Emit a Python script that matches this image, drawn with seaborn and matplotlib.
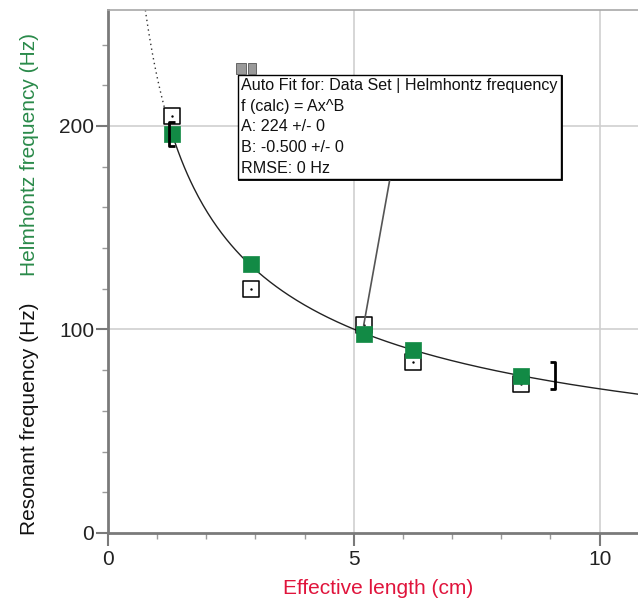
import numpy as np
import pandas as pd
import matplotlib
matplotlib.use("Agg")
import matplotlib.pyplot as plt
from matplotlib.patches import Rectangle
import seaborn as sns

# ---- data ----
lengths = [1.3, 2.9, 5.2, 6.2, 8.4]          # Effective length (cm)
helmholtz = [196, 132, 98, 90, 77]          # Helmhontz frequency (Hz)
resonant = [205, 120, 102, 84, 73]          # Resonant frequency (Hz)
fit_A = 224
fit_B = -0.500
fit_start = 1.3
bracket_x = [1.25, 9.1]
bracket_lo = [190, 71]
bracket_hi = [202, 84]
x_ticks = [0, 5, 10]
y_ticks = [0, 100, 200]
fit_lines = ["Auto Fit for: Data Set | Helmhontz frequency",
             "f (calc) = Ax^B",
             "A: 224 +/- 0",
             "B: -0.500 +/- 0",
             "RMSE: 0 Hz"]

sns.set_style("white")
plt.rcParams['font.family'] = ['Liberation Sans', 'DejaVu Sans']

GREEN = "#128a45"
W, H = 638, 602
fig = plt.figure(figsize=(W / 100, H / 100), dpi=100)
ax = fig.add_axes([108 / W, (H - 533) / H, 1 - 108 / W, (533 - 10) / H])

xmin, xmax = 0, 10.78
ymin, ymax = 0, 257

# grid
for xv in x_ticks[1:]:
    ax.axvline(xv, color="#cfcfcf", lw=1.2, zorder=0)
for yv in y_ticks[1:]:
    ax.axhline(yv, color="#cfcfcf", lw=1.2, zorder=0)

# fit curve
xs_dot = np.linspace(0.76, fit_start, 60)
xs_sol = np.linspace(fit_start, xmax, 300)
sns.lineplot(x=xs_dot, y=fit_A * xs_dot ** fit_B, ax=ax, color="#333333",
             lw=1.0, linestyle=(0, (1, 2.5)), zorder=2)
sns.lineplot(x=xs_sol, y=fit_A * xs_sol ** fit_B, ax=ax, color="#222222",
             lw=1.0, zorder=2)

# data points
df = pd.DataFrame({"x": lengths, "h": helmholtz, "r": resonant})
sns.scatterplot(data=df, x="x", y="r", ax=ax, marker="s", s=120,
                facecolor="white", edgecolor="black", linewidth=1.1, zorder=3)
sns.scatterplot(data=df, x="x", y="r", ax=ax, marker="o", s=3,
                color="black", linewidth=0, zorder=3.5)
sns.scatterplot(data=df, x="x", y="h", ax=ax, marker="s", s=130,
                color=GREEN, edgecolor=GREEN, linewidth=0.5, zorder=4)

# range brackets
sx = 0.12
for bx, lo, hi, side in zip(bracket_x, bracket_lo, bracket_hi, [1, -1]):
    ax.plot([bx + side * sx, bx, bx, bx + side * sx], [hi, hi, lo, lo],
            color="black", lw=2.0, zorder=5, solid_capstyle="butt")

# annotation box (with a shadow on the right/bottom)
ann_kw = dict(xy=(lengths[2], resonant[2]), textcoords="figure pixels",
              ha="left", va="top", fontsize=11.6, linespacing=1.47)
shadow = ax.annotate("\n".join(fit_lines), xytext=(242.5, H - 79.5),
                     color="black",
                     bbox=dict(boxstyle="square,pad=0.2", fc="black",
                               ec="black", lw=1.3),
                     zorder=5.5, **ann_kw)
ann = ax.annotate("\n".join(fit_lines), xytext=(241, H - 78),
                  color="#111111",
                  bbox=dict(boxstyle="square,pad=0.2", fc="white",
                            ec="black", lw=1.0),
                  arrowprops=dict(arrowstyle="-", color="#555555", lw=1.2,
                                  shrinkA=0, shrinkB=0),
                  zorder=6, **ann_kw)

# small window icons on the box
for (px, pw) in [(236, 10), (248, 8)]:
    fig.patches.append(Rectangle((px / W, (H - 74) / H), pw / W, 11 / H,
                                 transform=fig.transFigure, fc="#9a9a9a",
                                 ec="#555555", lw=0.6, zorder=10))

ax.set_xlim(xmin, xmax)
ax.set_ylim(ymin, ymax)
ax.set_xticks(x_ticks)
ax.set_yticks(y_ticks)
ax.set_xticks(np.arange(1, 11, 1), minor=True)
ax.set_yticks(np.arange(20, 257, 20), minor=True)
ax.tick_params(axis="both", which="major", direction="out", length=9,
               width=1.5, color="#7a7a7a", labelsize=15, labelcolor="#222222",
               pad=1)
ax.tick_params(axis="x", which="major", pad=3)
ax.tick_params(axis="both", which="minor", direction="out", length=4,
               width=1.0, color="#9a9a9a")
ax.tick_params(axis="x", which="both", bottom=True)
ax.tick_params(axis="y", which="both", left=True)
ax.set_xlabel("")
ax.set_ylabel("")

for s in ["left", "bottom"]:
    ax.spines[s].set_color("#7a7a7a")
    ax.spines[s].set_linewidth(2.0)
ax.spines["top"].set_color("#a8a8a8")
ax.spines["top"].set_linewidth(1.2)
ax.spines["right"].set_visible(False)

fig.text(378 / W, (H - 588) / H, "Effective length (cm)", color="#e0143c",
         fontsize=15, ha="center", va="center")
fig.text(30 / W, (H - 535) / H, "Resonant frequency (Hz)", color="#111111",
         fontsize=15, rotation=90, ha="center", va="bottom")
fig.text(30 / W, (H - 276) / H, "Helmhontz frequency (Hz)", color="#2a8a4a",
         fontsize=15, rotation=90, ha="center", va="bottom")

fig.savefig("out.png", dpi=100)
